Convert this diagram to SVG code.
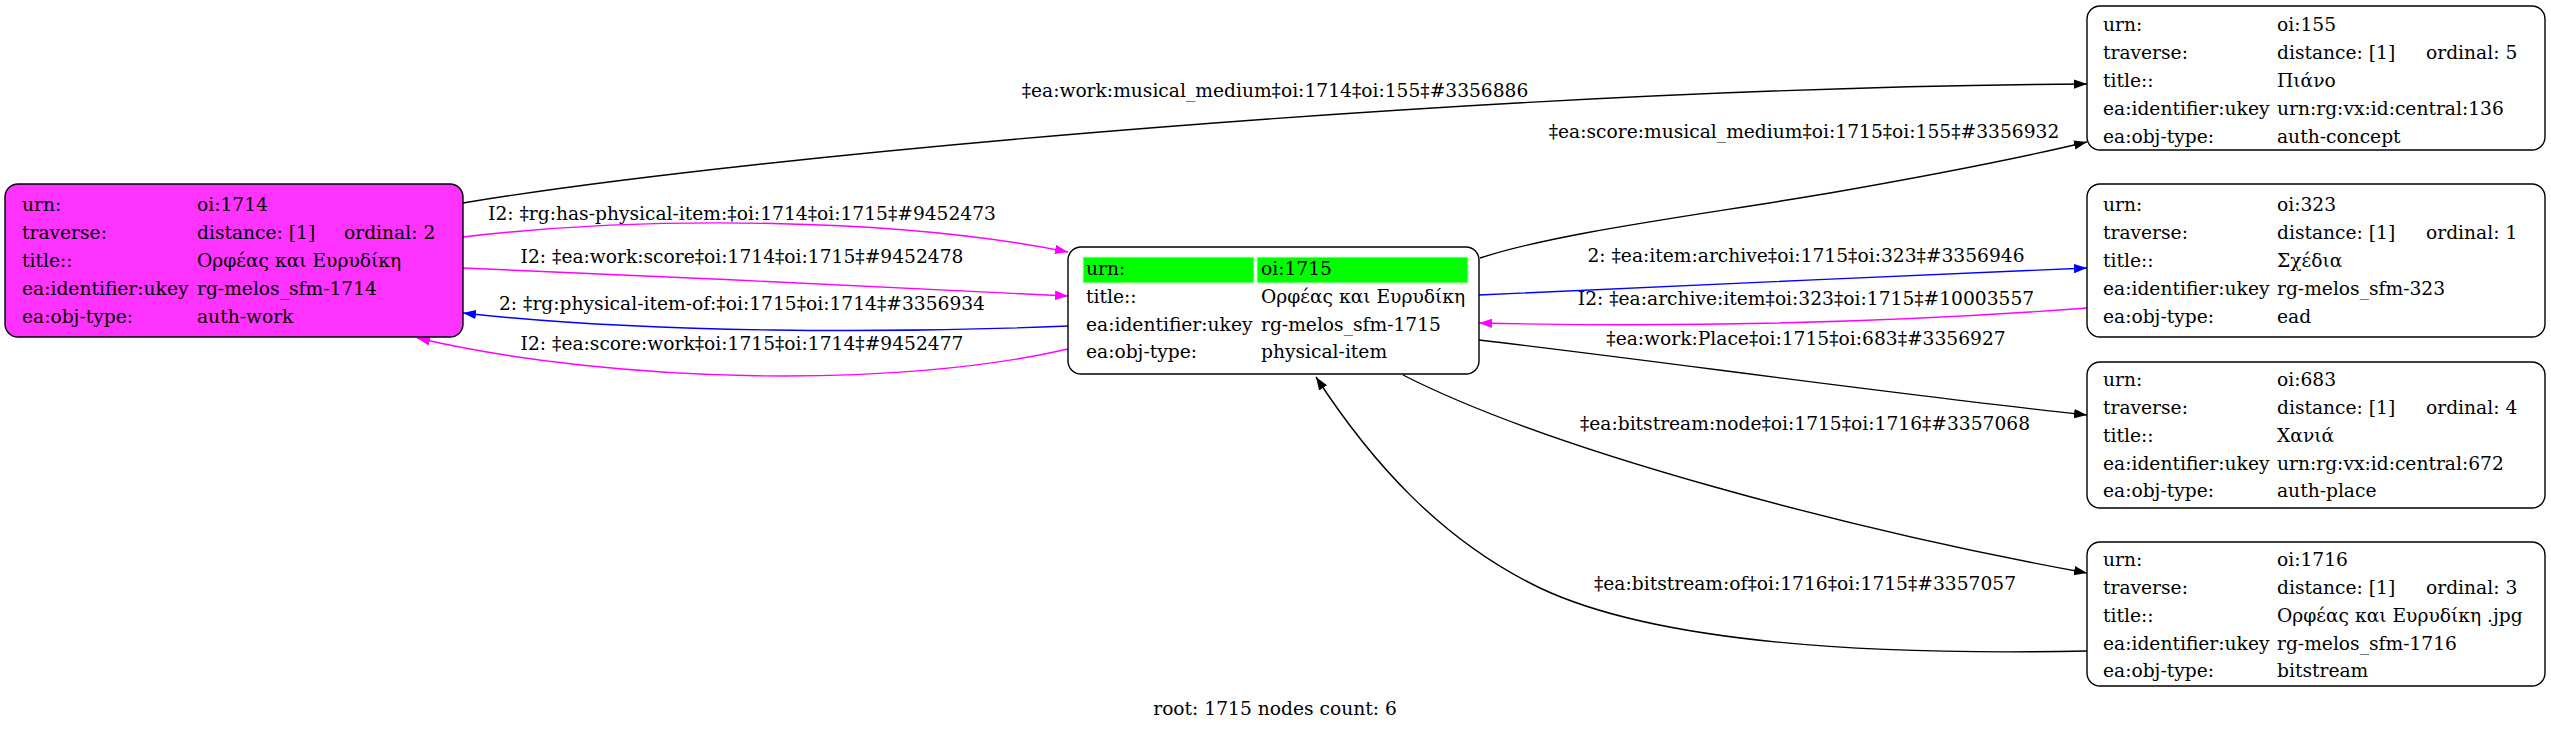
<svg xmlns="http://www.w3.org/2000/svg" width="2551" height="732" viewBox="0 0 2551 732">
<style>
text { font-family: "DejaVu Serif", "Liberation Serif", serif; font-size: 18.67px; fill: #000; }
.box { fill: #fff; stroke: #000; stroke-width: 1.4; }
.work { fill: #ff33ff; stroke: #000; stroke-width: 1.4; }
.cell { fill: #00ff00; stroke: #c8ffc8; stroke-width: 1; }
.e { fill: none; stroke-width: 1.4; }
.k { stroke: #000; }
.m { stroke: #ff00ff; }
.b { stroke: #0000ff; }
.lbl { text-anchor: middle; }
</style>
<defs>
<marker id="ak" viewBox="0 0 13 10" refX="13" refY="5" markerWidth="13" markerHeight="10" markerUnits="userSpaceOnUse" orient="auto"><path d="M0,0.3 L13,5 L0,9.7 z" fill="#000"/></marker>
<marker id="am" viewBox="0 0 13 10" refX="13" refY="5" markerWidth="13" markerHeight="10" markerUnits="userSpaceOnUse" orient="auto"><path d="M0,0.3 L13,5 L0,9.7 z" fill="#ff00ff"/></marker>
<marker id="ab" viewBox="0 0 13 10" refX="13" refY="5" markerWidth="13" markerHeight="10" markerUnits="userSpaceOnUse" orient="auto"><path d="M0,0.3 L13,5 L0,9.7 z" fill="#0000ff"/></marker>
</defs>
<rect width="2551" height="732" fill="#fff"/>

<g id="edges">
<path class="e k" d="M463,203 C750,155 1500,88 2087,84" marker-end="url(#ak)"/>
<text class="lbl" x="1275" y="97">‡ea:work:musical_medium‡oi:1714‡oi:155‡#3356886</text>

<path class="e k" d="M1480,258 C1560,232 1700,215 1830,193 C1950,172 2020,158 2087,142" marker-end="url(#ak)"/>
<text class="lbl" x="1804" y="138">‡ea:score:musical_medium‡oi:1715‡oi:155‡#3356932</text>

<path class="e m" d="M463,237 C650,215 900,218 1068,252" marker-end="url(#am)"/>
<text class="lbl" x="742" y="220">I2: ‡rg:has-physical-item:‡oi:1714‡oi:1715‡#9452473</text>

<path class="e m" d="M463,268 C650,276 900,287 1068,296" marker-end="url(#am)"/>
<text class="lbl" x="742" y="263">I2: ‡ea:work:score‡oi:1714‡oi:1715‡#9452478</text>

<path class="e b" d="M1068,326 C900,333 650,334 463,313" marker-end="url(#ab)"/>
<text class="lbl" x="742" y="310">2: ‡rg:physical-item-of:‡oi:1715‡oi:1714‡#3356934</text>

<path class="e m" d="M1068,349 C900,388 620,385 417,338" marker-end="url(#am)"/>
<text class="lbl" x="742" y="350">I2: ‡ea:score:work‡oi:1715‡oi:1714‡#9452477</text>

<path class="e b" d="M1479,295 C1650,287 1900,276 2087,268" marker-end="url(#ab)"/>
<text class="lbl" x="1806" y="262">2: ‡ea:item:archive‡oi:1715‡oi:323‡#3356946</text>

<path class="e m" d="M2087,308 C1900,322 1700,328 1479,323" marker-end="url(#am)"/>
<text class="lbl" x="1806" y="305">I2: ‡ea:archive:item‡oi:323‡oi:1715‡#10003557</text>

<path class="e k" d="M1479,340 C1650,360 1900,395 2087,415" marker-end="url(#ak)"/>
<text class="lbl" x="1806" y="345">‡ea:work:Place‡oi:1715‡oi:683‡#3356927</text>

<path class="e k" d="M1403,375 C1550,450 1850,530 2087,573" marker-end="url(#ak)"/>
<text class="lbl" x="1805" y="430">‡ea:bitstream:node‡oi:1715‡oi:1716‡#3357068</text>

<path class="e k" d="M2087,651 C1850,656 1650,640 1540,588 C1440,540 1370,460 1316,377" marker-end="url(#ak)"/>
<text class="lbl" x="1805" y="590">‡ea:bitstream:of‡oi:1716‡oi:1715‡#3357057</text>
</g>

<g id="node-1714">
<rect class="work" x="5" y="184" width="458" height="153" rx="13"/>
<text x="22" y="211">urn:</text><text x="197" y="211">oi:1714</text>
<text x="22" y="239">traverse:</text><text x="197" y="239">distance: [1]</text><text x="344" y="239">ordinal: 2</text>
<text x="22" y="267">title::</text><text x="197" y="267">Ορφέας και Ευρυδίκη</text>
<text x="22" y="295">ea:identifier:ukey</text><text x="197" y="295">rg-melos_sfm-1714</text>
<text x="22" y="323">ea:obj-type:</text><text x="197" y="323">auth-work</text>
</g>

<g id="node-1715">
<rect class="box" x="1068" y="247" width="411" height="127" rx="13"/>
<rect class="cell" x="1083" y="257" width="171" height="26"/>
<rect class="cell" x="1257" y="257" width="211" height="26"/>
<text x="1086" y="275">urn:</text><text x="1261" y="275">oi:1715</text>
<text x="1086" y="303">title::</text><text x="1261" y="303">Ορφέας και Ευρυδίκη</text>
<text x="1086" y="331">ea:identifier:ukey</text><text x="1261" y="331">rg-melos_sfm-1715</text>
<text x="1086" y="358">ea:obj-type:</text><text x="1261" y="358">physical-item</text>
</g>

<g id="node-155">
<rect class="box" x="2087" y="6" width="458" height="144" rx="13"/>
<text x="2103" y="31">urn:</text><text x="2277" y="31">oi:155</text>
<text x="2103" y="59">traverse:</text><text x="2277" y="59">distance: [1]</text><text x="2426" y="59">ordinal: 5</text>
<text x="2103" y="87">title::</text><text x="2277" y="87">Πιάνο</text>
<text x="2103" y="115">ea:identifier:ukey</text><text x="2277" y="115">urn:rg:vx:id:central:136</text>
<text x="2103" y="143">ea:obj-type:</text><text x="2277" y="143">auth-concept</text>
</g>

<g id="node-323">
<rect class="box" x="2087" y="184" width="458" height="153" rx="13"/>
<text x="2103" y="211">urn:</text><text x="2277" y="211">oi:323</text>
<text x="2103" y="239">traverse:</text><text x="2277" y="239">distance: [1]</text><text x="2426" y="239">ordinal: 1</text>
<text x="2103" y="267">title::</text><text x="2277" y="267">Σχέδια</text>
<text x="2103" y="295">ea:identifier:ukey</text><text x="2277" y="295">rg-melos_sfm-323</text>
<text x="2103" y="323">ea:obj-type:</text><text x="2277" y="323">ead</text>
</g>

<g id="node-683">
<rect class="box" x="2087" y="362" width="458" height="146" rx="13"/>
<text x="2103" y="386">urn:</text><text x="2277" y="386">oi:683</text>
<text x="2103" y="414">traverse:</text><text x="2277" y="414">distance: [1]</text><text x="2426" y="414">ordinal: 4</text>
<text x="2103" y="442">title::</text><text x="2277" y="442">Χανιά</text>
<text x="2103" y="470">ea:identifier:ukey</text><text x="2277" y="470">urn:rg:vx:id:central:672</text>
<text x="2103" y="497">ea:obj-type:</text><text x="2277" y="497">auth-place</text>
</g>

<g id="node-1716">
<rect class="box" x="2087" y="542" width="458" height="144" rx="13"/>
<text x="2103" y="566">urn:</text><text x="2277" y="566">oi:1716</text>
<text x="2103" y="594">traverse:</text><text x="2277" y="594">distance: [1]</text><text x="2426" y="594">ordinal: 3</text>
<text x="2103" y="622">title::</text><text x="2277" y="622">Ορφέας και Ευρυδίκη .jpg</text>
<text x="2103" y="650">ea:identifier:ukey</text><text x="2277" y="650">rg-melos_sfm-1716</text>
<text x="2103" y="677">ea:obj-type:</text><text x="2277" y="677">bitstream</text>
</g>

<text class="lbl" x="1275" y="715">root: 1715 nodes count: 6</text>
</svg>
